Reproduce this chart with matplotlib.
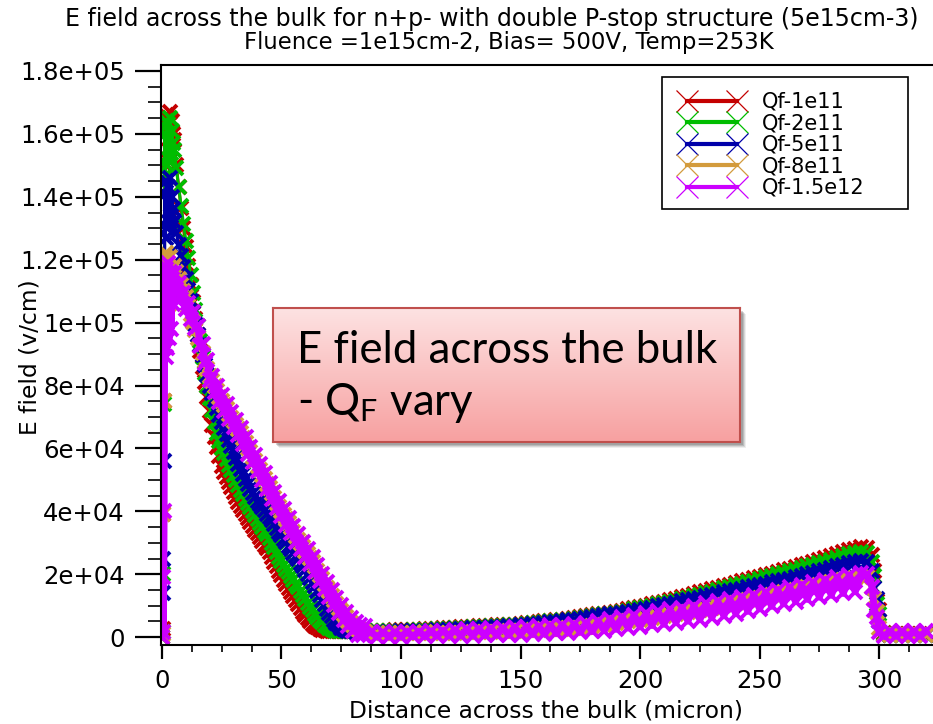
import numpy as np
import matplotlib
matplotlib.use("Agg")
import matplotlib.pyplot as plt
from matplotlib.lines import Line2D
from matplotlib.patches import Rectangle
from matplotlib.ticker import MultipleLocator, FuncFormatter

plt.rcParams['font.family'] = ['DejaVu Sans']
plt.rcParams['mathtext.default'] = 'regular'

# ---------------------------------------------------------------- data
labels = ["Qf-1e11", "Qf-2e11", "Qf-5e11", "Qf-8e11", "Qf-1.5e12"]
colors = ["#c40000", "#00bd00", "#0000aa", "#d39b3c", "#cc00ff"]
line_widths = [2.2, 2.2, 2.2, 2.2, 5.0]

# mesh positions along the cut (micron)
x_surface = [0.0, 0.3, 0.6, 0.9, 1.2, 1.5, 1.8, 2.2, 2.6, 3.0, 3.4, 3.8, 4.2, 4.6]
x_depletion = np.arange(5, 86, 1.0)          # 5 ... 85
x_bulk = np.arange(87.5, 293, 2.5)           # 87.5 ... 292.5
x_edge = [295, 297, 298, 299, 300]
x_tail = [302, 304.5, 307, 309.5, 312, 314.5, 317, 319.5]

# electric field, kV/cm : surface | depletion (1 um) | bulk (2.5 um) | back edge | tail
e_qf_1e11 = [
    0, 2.5, 39, 75, 163, 150, 166, 152, 165, 155, 167, 158, 164, 160,
    158, 150, 143, 136.5, 130, 124, 118, 112, 106.5, 101,
    96, 91, 86, 81, 76.5, 72, 67.5, 63.5, 60.5, 57.5,
    54.5, 52.4, 50.8, 49.2, 47.6, 46, 44.4, 43.0, 41.7, 40.4,
    39, 37.8, 36.6, 35.4, 34.2, 33, 31.8, 30.6, 29.4, 28.2,
    27, 25.5, 24, 22.5, 21, 19.6, 18.2, 16.9, 15.6, 14.3,
    13.1, 11.8, 10.5, 9.3, 8.1, 7.0, 6.0, 5.1, 4.3, 3.6,
    3.1, 2.7, 2.4, 2.2, 2.1, 2.0, 2.0, 2.0, 2.0, 2.0,
    2.0, 2.0, 2.0, 2.0, 2.0, 2.0, 2.0, 2.0, 2.0, 2.0,
    2.0,
    2.0, 2.05, 2.1, 2.1, 2.15, 2.2, 2.25, 2.3, 2.4, 2.5,
    2.6, 2.7, 2.8, 2.9, 3.0, 3.1, 3.2, 3.3, 3.4, 3.5,
    3.6, 3.7, 3.8, 3.9, 4.0, 4.2, 4.4, 4.6, 4.8, 5.0,
    5.2, 5.4, 5.6, 5.8, 6.0, 6.3, 6.6, 6.9, 7.2, 7.5,
    7.8, 8.1, 8.4, 8.8, 9.2, 9.6, 10.0, 10.4, 10.8, 11.2,
    11.7, 12.2, 12.7, 13.2, 13.7, 14.2, 14.7, 15.2, 15.7, 16.2,
    16.7, 17.2, 17.7, 18.2, 18.7, 19.2, 19.7, 20.2, 20.7, 21.2,
    21.7, 22.2, 22.8, 23.4, 24.0, 24.6, 25.2, 25.8, 26.4, 27.0,
    27.6, 28.1, 28.5,
    28.4, 26, 21, 11.5, 8.5,
    1.2, 0.9, 0.9, 0.9, 0.9, 0.9, 0.9, 0.9,
]
e_qf_2e11 = [
    0, 1.5, 20, 74, 160, 147, 164, 150, 163, 152, 165, 154, 161, 157,
    155, 149, 143, 137, 131.5, 126, 120.5, 115, 109.5, 104,
    99, 94, 89, 84, 80, 76, 72.2, 68.5, 65, 62.5,
    60.2, 58.4, 56.6, 54.8, 53.1, 51.5, 50.0, 48.5, 46.9, 45.4,
    44, 42.7, 41.4, 40.2, 38.9, 37.6, 36.3, 35.1, 33.9, 32.7,
    31.5, 30, 28.5, 27, 25.6, 24.3, 23.0, 21.8, 20.6, 19.4,
    18.2, 17.0, 15.8, 14.6, 13.3, 12.0, 10.8, 9.6, 8.5, 7.4,
    6.4, 5.5, 4.7, 4.0, 3.4, 2.9, 2.5, 2.2, 2.0, 1.9,
    1.9, 1.9, 1.9, 1.9, 1.9, 1.9, 1.9, 1.9, 1.9, 1.9,
    1.9,
    1.9, 1.9, 1.95, 2.0, 2.0, 2.05, 2.1, 2.15, 2.2, 2.3,
    2.4, 2.5, 2.6, 2.7, 2.8, 2.9, 3.0, 3.1, 3.2, 3.3,
    3.4, 3.5, 3.6, 3.7, 3.8, 4.0, 4.2, 4.4, 4.6, 4.8,
    5.0, 5.2, 5.4, 5.6, 5.8, 6.0, 6.3, 6.6, 6.9, 7.2,
    7.5, 7.8, 8.1, 8.4, 8.8, 9.2, 9.6, 10.0, 10.4, 10.8,
    11.2, 11.6, 12.0, 12.5, 13.0, 13.5, 14.0, 14.5, 15.0, 15.5,
    16.0, 16.5, 17.0, 17.5, 18.0, 18.5, 19.0, 19.5, 20.0, 20.5,
    21.0, 21.5, 22.0, 22.5, 23.0, 23.5, 24.0, 24.6, 25.2, 25.8,
    26.3, 26.7, 27.0,
    26.9, 24, 19.5, 10.5, 7.5,
    1.0, 0.8, 0.8, 0.8, 0.8, 0.8, 0.8, 0.8,
]
e_qf_5e11 = [
    0, 14, 25, 56, 141, 127, 145, 130, 143, 132, 146, 134, 140, 136,
    132, 128.4, 124.8, 121.2, 117.6, 114, 110.4, 106.8, 103.2, 99.6,
    96, 92.8, 89.6, 86.4, 83.2, 80, 77.6, 75.3, 73.0, 70.7,
    68.4, 66.4, 64.5, 62.6, 60.7, 58.9, 57.0, 55.2, 53.5, 51.8,
    50.2, 48.6, 47.1, 45.7, 44.4, 43.4, 42.4, 41.3, 40.3, 39.3,
    38.3, 37.1, 35.9, 34.7, 33.5, 32.4, 31.3, 30.2, 29.1, 28,
    26.9, 25.8, 24.7, 23.6, 22.5, 21.4, 20.1, 18.8, 17.5, 16.1,
    14.7, 13.3, 11.9, 10.5, 9.1, 7.8, 6.6, 5.5, 4.5, 3.7,
    3.0, 2.5, 2.2, 2.0, 1.9, 1.8, 1.7, 1.7, 1.7, 1.7,
    1.7,
    1.7, 1.7, 1.7, 1.7, 1.75, 1.8, 1.85, 1.9, 1.95, 2.0,
    2.1, 2.2, 2.3, 2.4, 2.5, 2.6, 2.7, 2.8, 2.9, 3.0,
    3.1, 3.2, 3.3, 3.4, 3.5, 3.7, 3.9, 4.1, 4.3, 4.5,
    4.7, 4.9, 5.1, 5.3, 5.5, 5.7, 6.0, 6.3, 6.6, 6.9,
    7.2, 7.5, 7.8, 8.1, 8.4, 8.7, 9.0, 9.4, 9.8, 10.2,
    10.6, 11.0, 11.4, 11.8, 12.2, 12.6, 13.0, 13.4, 13.8, 14.2,
    14.6, 15.0, 15.4, 15.8, 16.2, 16.6, 17.0, 17.4, 17.8, 18.2,
    18.6, 19.0, 19.5, 20.0, 20.5, 21.0, 21.5, 22.0, 22.5, 23.0,
    23.5, 23.9, 24.2,
    24.0, 21, 15.5, 12, 5,
    0.8, 0.7, 0.7, 0.7, 0.7, 0.7, 0.7, 0.7,
]
e_qf_8e11 = [
    0, 1, 39, 75, 121, 100, 122, 103, 119, 106, 121, 109, 117, 115,
    118, 116, 114, 112, 110, 108, 105.4, 102.8, 100.2, 97.6,
    95, 92.6, 90.2, 87.8, 85.4, 83, 81.3, 79.7, 78.1, 76.5,
    75.2, 73.8, 72.4, 71.1, 69.8, 68.6, 67.3, 66.1, 64.8, 63.3,
    61.7, 60.1, 58.8, 57.4, 56.0, 54.5, 53.1, 51.7, 50.3, 48.8,
    47.3, 45.8, 44.3, 42.7, 41.5, 40.2, 38.9, 37.5, 36.2, 34.9,
    33.5, 32.2, 30.9, 29.8, 28.6, 27.4, 26.3, 25.1, 23.8, 22.5,
    21.1, 19.7, 18.4, 17.0, 15.7, 14.6, 13.2, 11.9, 10.6, 9.4,
    8.3, 7.2, 6.3, 5.2, 4.4, 3.7, 3.0, 2.6, 2.2, 1.9,
    1.75,
    1.5, 1.4, 1.3, 1.3, 1.3, 1.3, 1.35, 1.4, 1.45, 1.5,
    1.2, 1.25, 1.3, 1.35, 1.4, 1.45, 1.5, 1.55, 1.6, 1.65,
    1.7, 1.75, 1.8, 1.9, 2.0, 2.1, 2.2, 2.3, 2.4, 2.5,
    2.5, 2.6, 2.7, 2.8, 2.9, 3.0, 3.2, 3.4, 3.6, 3.8,
    4.1, 4.4, 4.7, 5.0, 5.3, 5.6, 5.9, 6.2, 6.5, 6.8,
    7.1, 7.4, 7.7, 8.0, 8.3, 8.6, 9.0, 9.4, 9.8, 10.2,
    10.6, 11.0, 11.4, 11.8, 12.2, 12.6, 13.0, 13.4, 13.8, 14.2,
    14.6, 15.0, 15.4, 15.8, 16.2, 16.6, 17.0, 17.4, 17.8, 18.2,
    18.5, 18.8, 19.0,
    19.0, 16, 12, 8, 3,
    0.6, 0.6, 0.6, 0.6, 0.6, 0.6, 0.6, 0.6,
]
e_qf_1p5e12 = [
    0, 19, 1.5, 40, 118, 89, 117, 92, 119, 95, 116, 98, 114, 106,
    115.8, 110.6, 112.6, 107.4, 109.4, 104.2, 106.3, 101.2, 103.3, 98.2,
    99.0, 92.5, 93.3, 87.0, 88.0, 81.7, 83.1, 77.9, 79.9, 74.7,
    77.0, 72.0, 74.2, 69.3, 71.6, 66.8, 69.1, 64.3, 66.6, 61.5,
    63.5, 58.3, 60.6, 55.6, 57.8, 52.7, 54.9, 49.9, 52.1, 47.0,
    49.1, 44.0, 46.1, 40.9, 43.3, 38.4, 40.7, 35.7, 38.0, 33.1,
    35.3, 30.4, 32.7, 28.0, 30.4, 25.6, 28.1, 23.3, 25.6, 20.7,
    22.9, 17.9, 20.2, 15.2, 17.5, 12.8, 15.0, 10.1, 12.4, 7.6,
    10.1, 5.4, 8.1, 3.4, 6.2, 1.9, 4.8, 0.8, 4.0, 0.6,
    3.5,
    1.5, 0.2, 1.5, 0.2, 1.55, 0.2, 1.65, 0.25, 1.75, 0.3,
    1.9, 0.35, 2.1, 0.4, 2.3, 0.45, 2.5, 0.5, 2.65, 0.55,
    2.8, 0.6, 2.95, 0.7, 3.1, 0.8, 3.3, 0.9, 3.5, 1.0,
    3.7, 1.2, 3.9, 1.4, 4.2, 1.6, 4.6, 1.8, 5.1, 2.1,
    5.8, 2.5, 6.4, 2.9, 7.0, 3.3, 7.6, 3.7, 8.2, 4.1,
    8.8, 4.6, 9.4, 5.1, 10.0, 5.6, 10.7, 6.2, 11.4, 6.8,
    12.1, 7.5, 12.8, 8.2, 13.5, 9.0, 14.3, 9.8, 15.1, 10.6,
    15.9, 11.3, 16.7, 12.0, 17.5, 12.7, 18.3, 13.3, 19.0, 13.9,
    19.7, 14.5, 20.3,
    20.0, 16, 8.5, 6.5, 1.5,
    0.3, 1.8, 0.3, 1.8, 0.3, 1.8, 0.3, 1.8,
]
series = [e_qf_1e11, e_qf_2e11, e_qf_5e11, e_qf_8e11, e_qf_1p5e12]

x_mesh = np.concatenate([x_surface, x_depletion, x_bulk, x_edge, x_tail])
for s in series:
    assert len(s) == len(x_mesh), (len(s), len(x_mesh))

# ---------------------------------------------------------------- figure
W, H = 933, 724
fig = plt.figure(figsize=(W / 100, H / 100), dpi=100)
ax = fig.add_axes([161 / W, 1 - 645 / H, (W - 161) / W, (645 - 65) / H])

for vals, c, lw, lab in zip(series, colors, line_widths, labels):
    ax.plot(x_mesh, np.asarray(vals) * 1e3, color=c, lw=lw, marker='x',
            ms=9.5, mew=2.8, label=lab)

ax.set_xlim(-0.4, 322.5)
ax.set_ylim(-2.5e3, 1.819e5)

ax.xaxis.set_major_locator(MultipleLocator(50))
ax.xaxis.set_minor_locator(MultipleLocator(12.5))
ax.yaxis.set_major_locator(MultipleLocator(2e4))
ax.yaxis.set_minor_locator(MultipleLocator(5e3))
ax.yaxis.set_major_formatter(FuncFormatter(lambda v, p: "%.2g" % v))

ax.tick_params(axis='y', which='major', length=19, width=1.6, pad=7, labelsize=17.5)
ax.tick_params(axis='y', which='minor', length=9.5, width=1.2)
ax.tick_params(axis='x', which='major', length=10, width=1.6, pad=7, labelsize=17.5)
ax.tick_params(axis='x', which='minor', length=5, width=1.2)
ax.spines['right'].set_visible(False)
for s in ('left', 'top', 'bottom'):
    ax.spines[s].set_linewidth(1.5)

# titles and axis labels
fig.text(492 / W, 1 - 19 / H, "E field across the bulk for n+p- with double P-stop structure (5e15cm-3)",
         ha='center', va='center', fontsize=17.0)
fig.text(509 / W, 1 - 43 / H, "Fluence =1e15cm-2, Bias= 500V, Temp=253K",
         ha='center', va='center', fontsize=16.4)
fig.text(546 / W, 1 - 711 / H, "Distance across the bulk (micron)",
         ha='center', va='center', fontsize=16.8)
fig.text(30 / W, 1 - 357 / H, "E field (v/cm)", rotation=90,
         ha='center', va='center', fontsize=16.8)

# legend: fixed frame, entries placed inside it
ax.add_patch(Rectangle((662 / W, 1 - 209 / H), 246 / W, 132 / H, transform=fig.transFigure,
                       facecolor='white', edgecolor='black', lw=1.2, zorder=4.5, clip_on=False))
handles = [Line2D([], [], color=c, lw=3, marker='x', ms=16, mew=0.9) for c in colors]
leg = ax.legend(handles, labels, loc='upper left',
                bbox_to_anchor=(681 / W, 1 - 92 / H), bbox_transform=fig.transFigure,
                fontsize=15, numpoints=2, handlelength=3.0, handletextpad=0.9,
                borderpad=0, labelspacing=0.07, borderaxespad=0, frameon=False)
leg.set_zorder(5)

# callout box with soft shadow
bx0, by0, bw, bh = 273, 308, 467, 134
for off, a in [(6, 0.10), (5, 0.15), (4, 0.22), (3, 0.25)]:
    fig.patches.append(Rectangle(((bx0 + off) / W, 1 - (by0 + bh + off) / H), bw / W, bh / H,
                                 transform=fig.transFigure, facecolor='0.35',
                                 edgecolor='none', alpha=a, zorder=4))
box = fig.add_axes([bx0 / W, 1 - (by0 + bh) / H, bw / W, bh / H], zorder=5)
top = np.array([253, 227, 227]) / 255
bot = np.array([247, 160, 160]) / 255
t = np.linspace(0, 1, 256)[:, None, None]
grad = top * (1 - t) + bot * t
box.imshow(grad, extent=[0, 1, 0, 1], aspect='auto', origin='upper')
box.set_xticks([])
box.set_yticks([])
for s in box.spines.values():
    s.set_edgecolor('#c0504d')
    s.set_linewidth(1.5)
box.text(24 / bw, (by0 + bh - 363) / bh, "E field across the bulk", fontfamily='Lato',
         fontsize=31.5, va='baseline', ha='left', transform=box.transAxes)
box.text(24 / bw, (by0 + bh - 415) / bh, "- Q$_{F}$ vary", fontfamily='Lato',
         fontsize=31.5, va='baseline', ha='left', transform=box.transAxes)

fig.savefig("out.png", dpi=100)
